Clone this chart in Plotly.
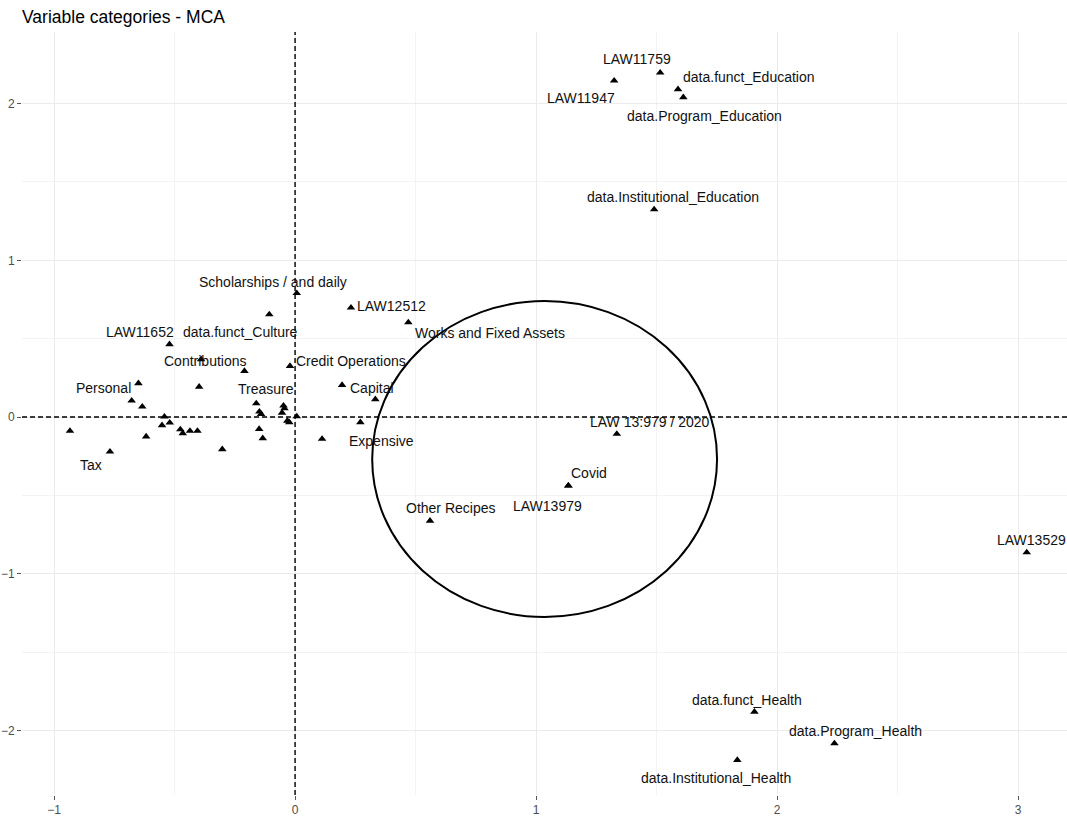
import plotly.graph_objects as go

# MCA coordinates (Dim 1, Dim 2) of labelled variable categories
label_names = [
    "Scholarships / and daily", "LAW12512", "Works and Fixed Assets", "LAW11652",
    "data.funct_Culture", "Contributions", "Credit Operations", "Personal",
    "Treasure", "Capital", "Expensive", "Tax",
    "LAW11759", "data.funct_Education", "LAW11947", "data.Program_Education",
    "data.Institutional_Education", "LAW 13:979 / 2020", "Covid", "LAW13979",
    "Other Recipes", "LAW13529", "data.funct_Health", "data.Program_Health",
    "data.Institutional_Health",
]
label_dim1 = [
    0.007, 0.232, 0.47, -0.521,
    -0.107, -0.39, -0.021, -0.65,
    -0.161, 0.195, 0.271, -0.768,
    1.515, 1.589, 1.324, 1.611,
    1.49, 1.335, 1.134, 1.134,
    0.56, 3.036, 1.906, 2.238,
    1.835,
]
label_dim2 = [
    0.79, 0.698, 0.604, 0.464,
    0.655, 0.368, 0.325, 0.215,
    0.087, 0.204, -0.034, -0.221,
    2.197, 2.091, 2.146, 2.04,
    1.325, -0.108, -0.438, -0.438,
    -0.662, -0.864, -1.881, -2.083,
    -2.189,
]

# remaining categories whose labels were dropped to avoid overlap
other_dim1 = [
    -0.21, -0.398, -0.678, -0.634, -0.934, -0.618, -0.542, -0.552, -0.52,
    -0.476, -0.466, -0.436, -0.405, -0.302, -0.148, -0.141, -0.048, -0.044,
    -0.054, -0.032, -0.024, 0.007, -0.149, -0.134, 0.333, 0.112,
]
other_dim2 = [
    0.293, 0.193, 0.104, 0.066, -0.089, -0.125, 0.002, -0.053, -0.036,
    -0.079, -0.104, -0.089, -0.089, -0.206, 0.034, 0.019, 0.072, 0.055,
    0.027, -0.024, -0.034, 0.004, -0.077, -0.136, 0.113, -0.14,
]

x_ticks = [-1, 0, 1, 2, 3]
y_ticks = [-2, -1, 0, 1, 2]

# repelled label offsets in pixels (dx right, dy up)
label_shift = [
    (-24, 11), (41, 2), (82, -11), (-30, 12),
    (-29, -18), (4, -2), (61, 5), (-35, -5),
    (10, 14), (30, -3), (21, -19), (-19, -13),
    (-23, 14), (71, 12), (-33, -17), (21, -19),
    (19, 12), (33, 12), (21, 13), (-21, -20),
    (20, 13), (5, 12), (-7, 12), (21, 12),
    (-21, -18),
]

FONT = "Liberation Sans, Arial, sans-serif"

fig = go.Figure()
fig.add_trace(go.Scatter(
    x=other_dim1 + label_dim1, y=other_dim2 + label_dim2,
    mode="markers",
    marker=dict(symbol="triangle-up", size=7.5, color="black"),
    hoverinfo="skip", showlegend=False,
))

for name, x, y, (dx, dy) in zip(label_names, label_dim1, label_dim2, label_shift):
    fig.add_annotation(
        x=x, y=y, text=name, showarrow=False,
        xshift=dx, yshift=dy,
        font=dict(family=FONT, size=14, color="#111111"),
    )

# reference lines through the origin
fig.add_hline(y=0, line=dict(color="black", width=1.4, dash="5px,3px"))
fig.add_vline(x=0, line=dict(color="black", width=1.4, dash="5px,3px"))

# highlighted group around the Covid-related categories
fig.add_shape(type="circle", xref="x", yref="y",
              x0=0.32, x1=1.751, y0=-1.276, y1=0.74,
              line=dict(color="black", width=2))

axis_common = dict(
    showgrid=True, gridcolor="#ebebeb", gridwidth=1,
    zeroline=False, showline=False,
    ticks="outside", ticklen=4, tickcolor="#555555",
    tickfont=dict(family=FONT, size=12, color="#4d4d4d"),
    minor=dict(showgrid=True, gridcolor="#f3f3f3", gridwidth=1),
    automargin=False,
)

fig.update_xaxes(range=[-1.133, 3.203], tickvals=x_ticks,
                 minor_dtick=0.5, minor_tick0=0, **axis_common)
fig.update_yaxes(range=[-2.412, 2.457], tickvals=y_ticks,
                 minor_dtick=0.5, minor_tick0=0, **axis_common)

fig.update_layout(
    width=1067, height=820,
    margin=dict(l=22, r=0, t=32, b=25),
    paper_bgcolor="white", plot_bgcolor="white",
    title=dict(text="Variable categories - MCA", x=22 / 1067, xanchor="left",
               y=1 - 17 / 820, yanchor="middle",
               font=dict(family=FONT, size=17.5, color="black")),
)

fig.write_html("out.html")
